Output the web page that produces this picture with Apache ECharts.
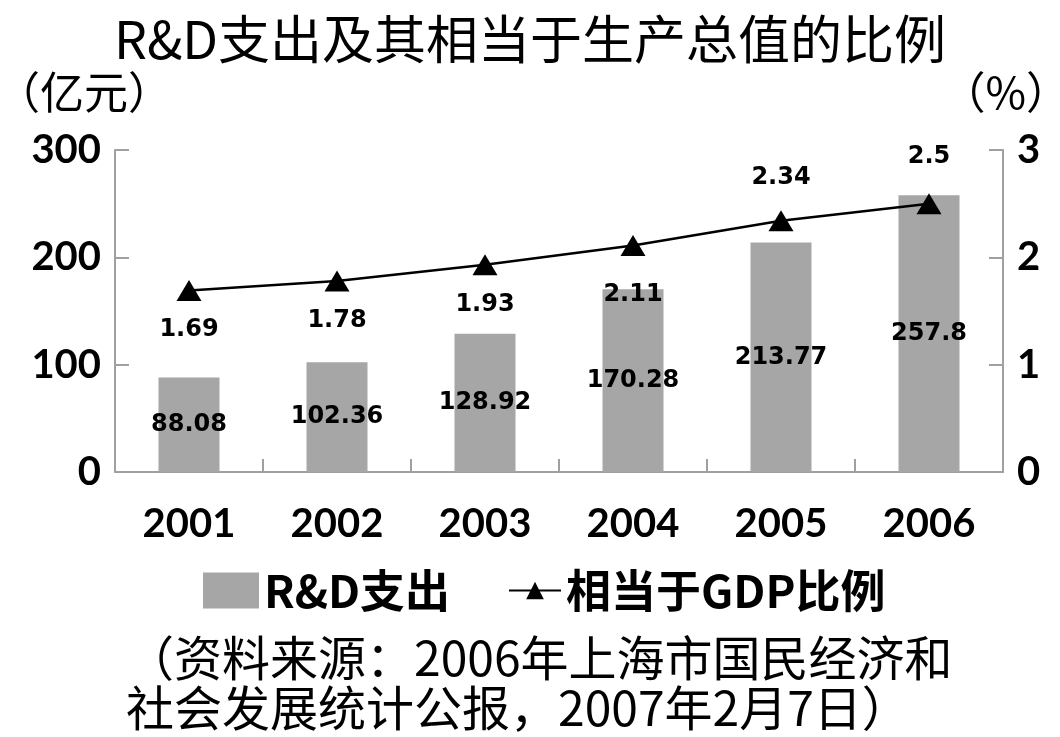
<!DOCTYPE html>
<html>
<head>
<meta charset="utf-8">
<script src="https://cdn.jsdelivr.net/npm/echarts@6/dist/echarts.min.js"></script>
<style>
html,body{margin:0;padding:0;background:#fff;}
#main{width:1060px;height:737px;}
</style>
</head>
<body>
<div id="main"></div>
<script>
const years = ['2001', '2002', '2003', '2004', '2005', '2006'];
const rdSpend = [88.08, 102.36, 128.92, 170.28, 213.77, 257.8];
const gdpRatio = [1.69, 1.78, 1.93, 2.11, 2.34, 2.5];
const leftAxisRange = [0, 300, 100];
const rightAxisRange = [0, 3, 1];
const seriesNames = ['R&D支出', '相当于GDP比例'];
const titleText = 'R&D支出及其相当于生产总值的比例';
const leftUnit = '（亿元）';
const rightUnit = '（%）';
const sourceLines = ['（资料来源：2006年上海市国民经济和', '社会发展统计公报，2007年2月7日）'];

const CJK = '"Noto Sans CJK SC", "Noto Sans", sans-serif';
const NUM = 'Lato, "Open Sans", sans-serif';
const LBL = '"DejaVu Sans", Verdana, sans-serif';
const axisGray = '#a0a0a0';

const chart = echarts.init(document.getElementById('main'), null, {renderer: 'canvas'});

const lineLabelCfg = gdpRatio.map((v, i) => {
  const below = i < 4;
  const dist = [17, 17, 17, 27, 21, 24][i];
  return {value: v, label: {position: below ? 'bottom' : 'top', distance: dist}};
});

const option = {
  backgroundColor: '#fff',
  animation: false,
  title: {
    text: titleText,
    left: 'center',
    top: 8,
    textStyle: {fontFamily: CJK, fontSize: 52, fontWeight: 'normal', color: '#000'}
  },
  grid: {left: 115, right: 57, top: 150, bottom: 265},
  legend: [
    {
      data: [seriesNames[0]],
      left: 198, top: 563,
      itemWidth: 56, itemHeight: 36,
      icon: 'rect',
      textStyle: {fontFamily: CJK, fontSize: 45, fontWeight: 'bold', color: '#000'}
    },
    {
      data: [seriesNames[1]],
      left: 503, top: 563,
      itemWidth: 52, itemHeight: 22,
      textStyle: {fontFamily: CJK, fontSize: 45, fontWeight: 'bold', color: '#000'}
    }
  ],
  xAxis: {
    type: 'category',
    data: years,
    boundaryGap: true,
    axisLine: {lineStyle: {color: axisGray, width: 2}},
    axisTick: {show: true, inside: true, length: 13, lineStyle: {color: axisGray, width: 2}},
    axisLabel: {fontFamily: NUM, fontSize: 40, fontWeight: 'bold', color: '#000', margin: 32}
  },
  yAxis: [
    {
      type: 'value',
      min: leftAxisRange[0], max: leftAxisRange[1], interval: leftAxisRange[2],
      axisLine: {show: true, lineStyle: {color: axisGray, width: 2}},
      axisTick: {show: true, inside: true, length: 14, lineStyle: {color: axisGray, width: 2}},
      splitLine: {show: false},
      axisLabel: {fontFamily: NUM, fontSize: 40, fontWeight: 'bold', color: '#000', margin: 14}
    },
    {
      type: 'value',
      min: rightAxisRange[0], max: rightAxisRange[1], interval: rightAxisRange[2],
      position: 'right',
      axisLine: {show: true, lineStyle: {color: axisGray, width: 2}},
      axisTick: {show: true, inside: true, length: 14, lineStyle: {color: axisGray, width: 2}},
      splitLine: {show: false},
      axisLabel: {fontFamily: NUM, fontSize: 40, fontWeight: 'bold', color: '#000', margin: 14}
    }
  ],
  series: [
    {
      name: seriesNames[0],
      type: 'bar',
      yAxisIndex: 0,
      data: rdSpend,
      barWidth: 61,
      itemStyle: {color: '#a6a6a6'},
      label: {
        show: true, position: 'inside',
        fontFamily: LBL, fontSize: 24, fontWeight: 'bold', color: '#000'
      }
    },
    {
      name: seriesNames[1],
      type: 'line',
      yAxisIndex: 1,
      data: lineLabelCfg,
      symbol: 'triangle',
      symbolSize: [25, 21],
      lineStyle: {color: '#000', width: 2.5},
      itemStyle: {color: '#000'},
      label: {
        show: true,
        fontFamily: LBL, fontSize: 24, fontWeight: 'bold', color: '#000'
      }
    }
  ],
  graphic: [
    {type: 'text', left: -4, top: 70,
     style: {text: leftUnit, font: 'normal 44px ' + CJK, fill: '#000'}},
    {type: 'text', right: -10, top: 70,
     style: {text: rightUnit, font: 'normal 44px ' + CJK, fill: '#000'}},
    {type: 'text', left: 126, top: 634,
     style: {text: sourceLines[0], font: 'normal 48px ' + CJK, fill: '#000'}},
    {type: 'text', left: 126, top: 684,
     style: {text: sourceLines[1], font: 'normal 48px ' + CJK, fill: '#000'}}
  ]
};
chart.setOption(option);
</script>
</body>
</html>
